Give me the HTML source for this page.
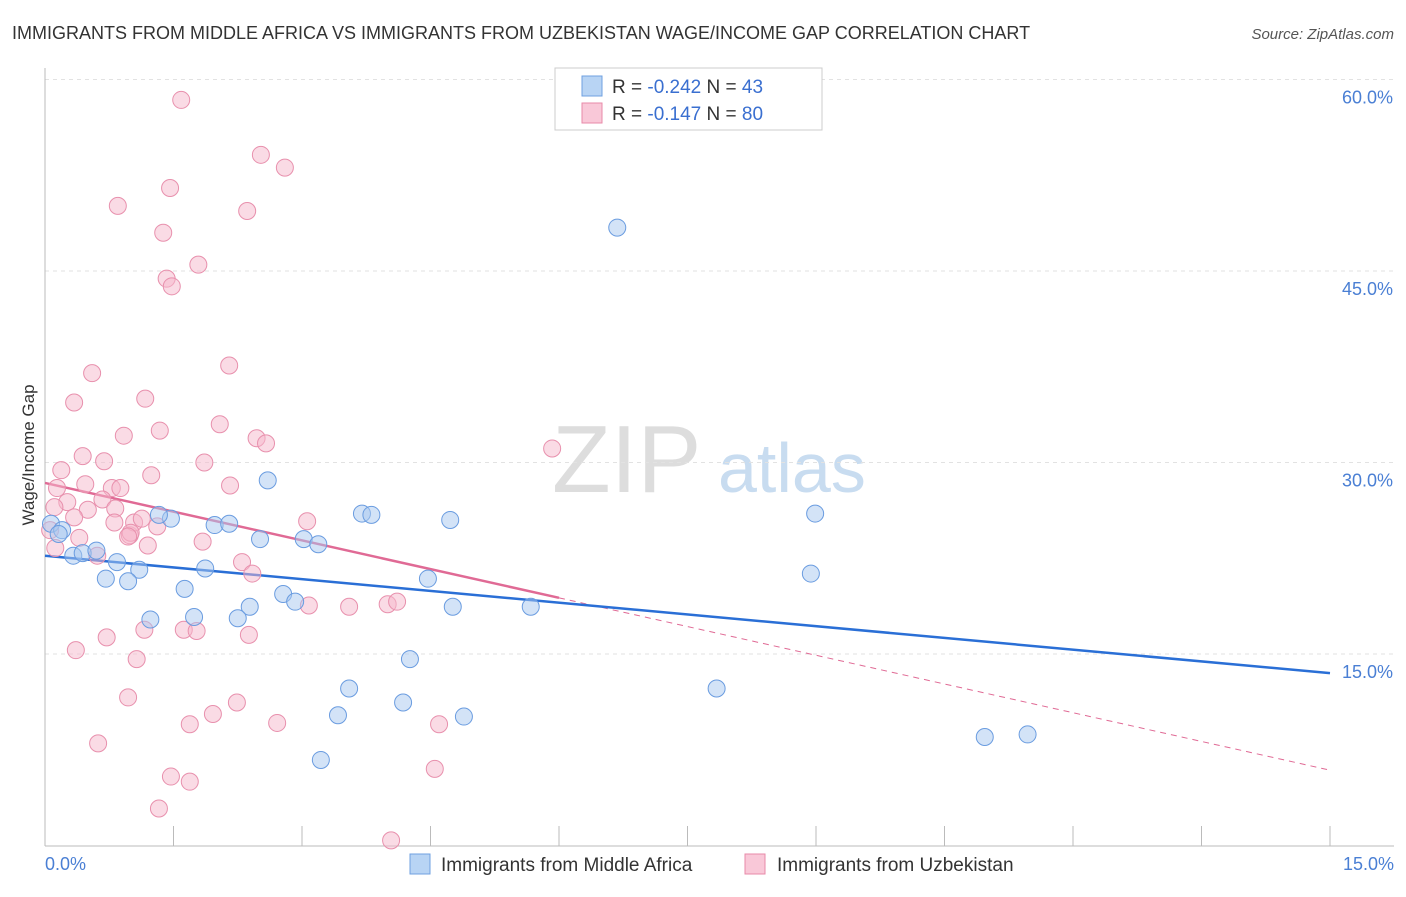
<!DOCTYPE html>
<html><head><meta charset="utf-8"><style>
body{margin:0;background:#fff;font-family:"Liberation Sans",sans-serif;}
svg text{font-family:"Liberation Sans",sans-serif;}
</style></head><body>
<svg id="chart" width="1406" height="892">
<text x="12" y="39" font-size="18" fill="#333">IMMIGRANTS FROM MIDDLE AFRICA VS IMMIGRANTS FROM UZBEKISTAN WAGE/INCOME GAP CORRELATION CHART</text>
<text x="1394" y="39" font-size="15" fill="#555" text-anchor="end" font-style="italic">Source: ZipAtlas.com</text>
<g><text x="552" y="492" font-size="96" fill="#ddd" font-family="Liberation Serif,serif">ZIP</text><text x="718" y="492" font-size="70" fill="#c8dcf0">atlas</text></g>
<g id="grid"></g><g id="axes"></g><g id="trends"></g><g id="pts"></g>
<text x="34" y="455" font-size="17" fill="#333" transform="rotate(-90 34 455)" text-anchor="middle">Wage/Income Gap</text>
<text x="45" y="870" font-size="18" fill="#4a7fd4">0.0%</text>
<text x="1394" y="870" font-size="18" fill="#4a7fd4" text-anchor="end">15.0%</text>
<g>
<rect x="555" y="68" width="267" height="62" fill="#fff" stroke="#ccc"/>
<rect x="582" y="76" width="20" height="20" fill="#b8d4f4" stroke="#6fa0e0"/>
<rect x="582" y="103" width="20" height="20" fill="#f9c8d8" stroke="#e88aa8"/>
<text x="612" y="93" font-size="19" fill="#333">R = <tspan fill="#3a6fd0">-0.242</tspan>   N = <tspan fill="#3a6fd0">43</tspan></text>
<text x="612" y="120" font-size="19" fill="#333">R = <tspan fill="#3a6fd0"> -0.147</tspan>   N = <tspan fill="#3a6fd0">80</tspan></text>
</g>
<g>
<rect x="410" y="854" width="20" height="20" fill="#b8d4f4" stroke="#6fa0e0"/>
<text x="441" y="871" font-size="19" fill="#333">Immigrants from Middle Africa</text>
<rect x="745" y="854" width="20" height="20" fill="#f9c8d8" stroke="#e88aa8"/>
<text x="777" y="871" font-size="19" fill="#333">Immigrants from Uzbekistan</text>
</g>
</svg>
<script>
const yTicks=[15,30,45,60];
const yTickLabels=["15.0%","30.0%","45.0%","60.0%"];
const xTicks=[0,1.5,3,4.5,6,7.5,9,10.5,12,13.5,15];
const blueX=[6.68,2.60,8.99,3.70,3.81,4.73,1.47,1.33,1.98,2.15,2.51,3.02,3.19,0.07,0.20,0.16,0.33,0.44,0.60,0.84,1.10,0.71,0.97,1.87,1.63,4.47,8.94,2.78,2.92,2.39,4.76,5.67,1.23,1.74,2.25,4.26,3.55,7.84,4.18,3.42,4.89,3.22,10.97,11.47];
const blueY=[48.4,28.6,26.0,26.0,25.9,25.5,25.6,25.9,25.1,25.2,24.0,24.0,23.6,25.2,24.7,24.4,22.7,22.9,23.1,22.2,21.6,20.9,20.7,21.7,20.1,20.9,21.3,19.7,19.1,18.7,18.7,18.7,17.7,17.9,17.8,14.6,12.3,12.3,11.2,10.2,10.1,6.7,8.5,8.7];
const pinkX=[1.59,2.52,2.80,1.46,0.85,2.36,1.38,1.79,1.42,1.48,2.15,0.55,0.34,1.17,1.34,0.92,2.04,2.47,2.58,5.92,0.44,0.69,0.19,1.86,1.24,2.16,0.14,0.47,0.26,0.78,0.88,0.67,0.82,0.50,0.11,0.34,0.99,0.81,1.04,1.13,1.31,1.00,0.97,3.06,0.06,0.40,1.20,1.84,0.12,0.61,2.30,2.42,3.08,3.55,4.00,4.11,1.16,1.62,1.77,0.72,2.38,0.36,1.07,0.97,2.24,1.96,1.69,2.71,4.60,0.62,1.47,1.69,4.55,1.33,4.04];
const pinkY=[58.4,54.1,53.1,51.5,50.1,49.7,48.0,45.5,44.4,43.8,37.6,37.0,34.7,35.0,32.5,32.1,33.0,31.9,31.5,31.1,30.5,30.1,29.4,30.0,29.0,28.2,28.0,28.3,26.9,28.0,28.0,27.1,26.4,26.3,26.5,25.7,24.3,25.3,25.3,25.6,25.0,24.5,24.2,25.4,24.7,24.1,23.5,23.8,23.3,22.7,22.2,21.3,18.8,18.7,18.9,19.1,16.9,16.9,16.8,16.3,16.5,15.3,14.6,11.6,11.2,10.3,9.5,9.6,9.5,8.0,5.4,5.0,6.0,2.9,0.4];
const blueTrend=[22.7,13.5];
const pinkTrend=[28.4,5.9];
const pinkSolidEnd=6;
const NS="http://www.w3.org/2000/svg";
const X=v=>45+v*(1285/15);
const Y=v=>845.5-v*(191.5/15);
function mk(tag,attrs,parent){const e=document.createElementNS(NS,tag);for(const k in attrs)e.setAttribute(k,attrs[k]);document.getElementById(parent).appendChild(e);return e;}
yTicks.forEach((t,i)=>{
 const l=mk('line',{x1:45,x2:1394,y1:Y(t),y2:Y(t),stroke:'#e2e2e2','stroke-dasharray':'4,4'},'grid');
 
 
 const tx=mk('text',{x:1393,y:Y(t)+24,'font-size':18,fill:'#4a7fd4','text-anchor':'end'},'grid');
 tx.textContent=yTickLabels[i];
 
 
});
const ax=mk('line',{x1:45,x2:45,y1:68,y2:846,stroke:'#bbb'},'axes');


const bx=mk('line',{x1:45,x2:1394,y1:846,y2:846,stroke:'#bbb'},'axes');


xTicks.forEach(t=>{
 const l=mk('line',{x1:X(t),x2:X(t),y1:826,y2:846,stroke:'#bbb'},'axes');
 
 
});
function drawPts(xs,ys,fill,stroke,name){
 xs.forEach((x,i)=>{
  const c=mk('circle',{cx:X(x),cy:Y(ys[i]),r:8.5,fill:fill,'fill-opacity':0.5,stroke:stroke,'stroke-width':1},'pts');
  
  
 });
}
drawPts(pinkX,pinkY,'#f6b8cc','#e890ad','point-uzbekistan');
drawPts(blueX,blueY,'#a8c8f0','#6a9ce0','point-middle-africa');
const pAt=x=>pinkTrend[0]+(pinkTrend[1]-pinkTrend[0])*x/15;
const pd=mk('line',{x1:X(pinkSolidEnd),y1:Y(pAt(pinkSolidEnd)),x2:X(15),y2:Y(pinkTrend[1]),stroke:'#e06a95','stroke-width':1,'stroke-dasharray':'6,5'},'trends');


const bt=mk('line',{x1:X(0),y1:Y(blueTrend[0]),x2:X(15),y2:Y(blueTrend[1]),stroke:'#2a6fd6','stroke-width':2.5},'trends');


const pt=mk('line',{x1:X(0),y1:Y(pinkTrend[0]),x2:X(pinkSolidEnd),y2:Y(pAt(pinkSolidEnd)),stroke:'#e06a95','stroke-width':2.5},'trends');


</script>
</body></html>
